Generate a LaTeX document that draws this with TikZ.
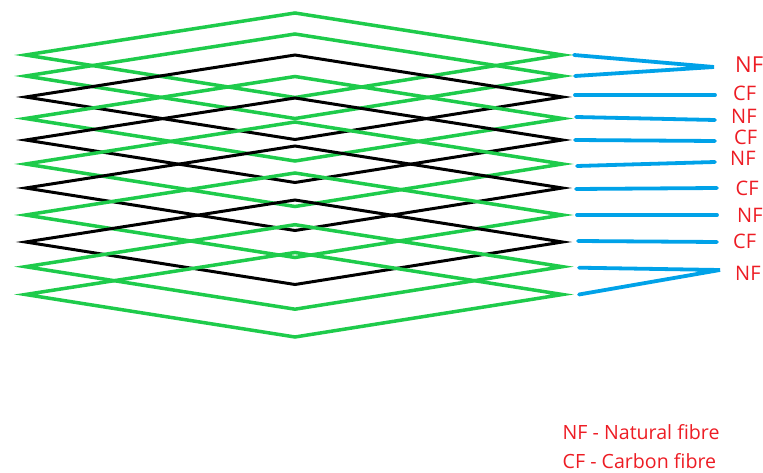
\documentclass[tikz,border=0pt]{standalone}
\usepackage{fontspec}
\setmainfont{Open Sans}
\definecolor{nfgreen}{RGB}{30,203,75}
\definecolor{linkblue}{RGB}{0,162,232}
\definecolor{labelred}{RGB}{237,28,36}
\tikzset{
  nflayer/.style={draw=nfgreen, line width=3.5pt, line join=miter},
  cflayer/.style={draw=black, line width=3pt, line join=miter},
  link/.style={draw=linkblue, line width=3.8pt, line cap=round},
  tag/.style={text=labelred, inner sep=0pt, anchor=west, font=\fontsize{20}{23}\selectfont},
  legend/.style={text=labelred, inner sep=0pt, anchor=west, font=\fontsize{19.6}{23}\selectfont}
}
\begin{document}
\begin{tikzpicture}[x=1pt,y=-1pt]
\useasboundingbox (0,0) rectangle (763,473);

% stacked plies: left tip, top, right tip, bottom (mitred tips reach x=15 and x=573)
\foreach \i/\y/\kind in {1/55/nflayer, 2/76/nflayer, 3/97/cflayer, 4/118.5/nflayer,
    5/140/cflayer, 6/164/nflayer, 7/188/cflayer, 8/215/nflayer, 9/242/cflayer,
    10/266.7/nflayer, 11/294.5/nflayer}{
  \coordinate (r\i) at (573,\y);
  \draw[\kind] (25.5,\y) -- (295,\y-42) -- (562.5,\y) -- (295,\y+42.5) -- cycle;
}

% label names
\node[tag, font=\fontsize{22}{25}\selectfont] (t1) at (735,65) {NF};
\node[tag] (t2) at (733,93) {CF};
\node[tag] (t3) at (731,116) {NF};
\node[tag] (t4) at (734,137) {CF};
\node[tag] (t5) at (730,158.5) {NF};
\node[tag] (t6) at (735.5,188) {CF};
\node[tag] (t7) at (737,215) {NF};
\node[tag] (t8) at (733,241.5) {CF};
\node[tag] (t9) at (735,273) {NF};

% leader ends
\coordinate (j1) at (714,67);
\coordinate (j2) at (715,95);
\coordinate (j3) at (715,120);
\coordinate (j4) at (715,141);
\coordinate (j5) at (715,162);
\coordinate (j6) at (717,188);
\coordinate (j7) at (717,215);
\coordinate (j8) at (717,242);
\coordinate (j9) at (720,270);

% leaders from ply edges to their names
\draw[link] ([xshift=1pt]r1) -- (j1) -- ([xshift=2pt]r2);
\draw[link] ([xshift=2pt,yshift=2pt]r3) -- (j2);
\draw[link] ([xshift=3pt,yshift=1.5pt]r4) -- (j3);
\draw[link] ([xshift=2pt]r5) -- (j4);
\draw[link] ([xshift=4pt,yshift=-2pt]r6) -- (j5);
\draw[link] ([xshift=3pt,yshift=-1pt]r7) -- (j6);
\draw[link] ([xshift=4pt]r8) -- (j7);
\draw[link] ([xshift=5pt,yshift=1pt]r9) -- (j8);
\draw[link] ([xshift=6pt,yshift=-1pt]r10) -- (j9) -- ([xshift=6pt]r11);

% legend
\node[legend] (l1) at (562.5,432) {NF - Natural fibre};
\node[legend] (l2) at (562.5,461) {CF - Carbon fibre};
\end{tikzpicture}
\end{document}
